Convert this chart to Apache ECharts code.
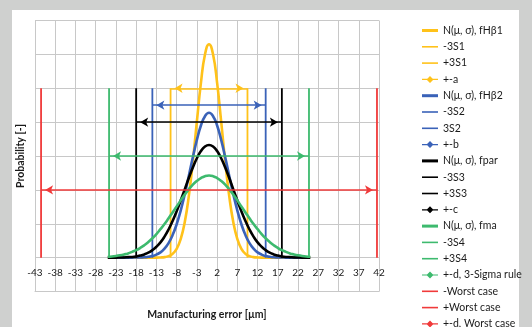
<!DOCTYPE html>
<html lang="en">
<head>
    <meta charset="UTF-8">
    <title>Manufacturing error</title>
    <style>
        html,body{
            margin: 0;
            width: 100%;
            height: 100%;
            overflow: hidden;
            background: #cfd0cf;
        }
        #chartmain{
            position: absolute;
            left: 12px;
            top: 10px;
            width: 520px;
            height: 340px;
            background: linear-gradient(to right, #fff 507px, #cfd0cf 507px);
        }
    </style>
</head>
<body>
<div id="chartmain"></div>
<script src="https://cdn.jsdelivr.net/npm/echarts@6/dist/echarts.min.js"></script>
<script type="text/javascript">
    // x positions of the curve samples [µm]
    var xs = [-25,-24,-23,-22,-21,-20,-19,-18,-17,-16,-15,-14,-13,-12,-11,-10,-9,-8,-7,-6,-5,-4,-3,-2,-1,0,
              1,2,3,4,5,6,7,8,9,10,11,12,13,14,15,16,17,18,19,20,21,22,23,24,25];
    // N(mu, sigma) curves
    var fHb1 = [0,0,0,0,0,0,0,0,0,0,0,0,0,0.0001,0.0003,0.0009,0.0022,0.0052,0.0109,0.0209,0.0362,0.0567,0.0804,0.1032,0.1199,0.1260,
                0.1199,0.1032,0.0804,0.0567,0.0362,0.0209,0.0109,0.0052,0.0022,0.0009,0.0003,0.0001,0,0,0,0,0,0,0,0,0,0,0,0,0];
    var fHb2 = [0,0,0,0,0,0,0,0.0001,0.0001,0.0002,0.0005,0.0009,0.0018,0.0031,0.0053,0.0086,0.0133,0.0197,0.0278,0.0374,0.0482,0.0592,0.0695,0.0780,0.0835,0.0855,
                0.0835,0.0780,0.0695,0.0592,0.0482,0.0374,0.0278,0.0197,0.0133,0.0086,0.0053,0.0031,0.0018,0.0009,0.0005,0.0002,0.0001,0.0001,0,0,0,0,0,0,0];
    var fpar = [0,0,0,0.0001,0.0001,0.0003,0.0004,0.0007,0.0012,0.0019,0.0029,0.0044,0.0064,0.0090,0.0124,0.0166,0.0216,0.0273,0.0337,0.0403,0.0470,0.0532,0.0587,0.0629,0.0656,0.0665,
                0.0656,0.0629,0.0587,0.0532,0.0470,0.0403,0.0337,0.0273,0.0216,0.0166,0.0124,0.0090,0.0064,0.0044,0.0029,0.0019,0.0012,0.0007,0.0004,0.0003,0.0001,0.0001,0,0,0];
    var fma = [0.0005,0.0007,0.0010,0.0014,0.0019,0.0025,0.0034,0.0044,0.0057,0.0073,0.0092,0.0114,0.0139,0.0168,0.0198,0.0232,0.0267,0.0302,0.0338,0.0372,0.0403,0.0431,0.0453,0.0470,0.0481,0.0485,
               0.0481,0.0470,0.0453,0.0431,0.0403,0.0372,0.0338,0.0302,0.0267,0.0232,0.0198,0.0168,0.0139,0.0114,0.0092,0.0073,0.0057,0.0044,0.0034,0.0025,0.0019,0.0014,0.0010,0.0007,0.0005];
    // +-3S limits and worst case [µm]
    var limits = [9.5, 14, 18, 24.7, 41.5];
    var limitTop = 0.10;
    // height of the double arrows
    var arrowLevels = [0.10, 0.09, 0.08, 0.06, 0.04];
    // x axis tick labels run from -43 to 42
    var xMin = -43, xMax = 42, xStep = 5;

    var names = [
        'N(μ, σ), fHβ1','-3S1','+3S1','+-a',
        'N(μ, σ), fHβ2','-3S2','3S2','+-b',
        'N(μ, σ), fpar','-3S3','+3S3','+-c',
        'N(μ, σ), fma','-3S4','+3S4','+-d, 3-Sigma rule',
        '-Worst case','+Worst case','+-d, Worst case'
    ];
    var colors = ['#ffc21a','#3a62b8','#000000','#3dba6e','#f03a3a'];

    var ICON_THICK = 'path://M0,0H16V3H0Z';
    var ICON_THIN = 'path://M0,0H16V1.6H0Z';
    var ICON_ARROW = 'path://M0,3.4H16V4.6H0Z M8,0.5L11.5,4L8,7.5L4.5,4Z';

    // axis is shifted so that ticks sit on -43, -38, ...
    function sx(x){ return x - xMin; }

    function curve(name, vals, color){
        return {
            name: name, type: 'line', smooth: true, symbol: 'none',
            data: xs.map(function(x, i){ return [sx(x), vals[i]]; }),
            lineStyle: {color: color, width: 2.6},
            itemStyle: {color: color}
        };
    }
    function vline(name, x, color){
        return {
            name: name, type: 'line', symbol: 'none',
            data: [[sx(x), 0], [sx(x), limitTop]],
            lineStyle: {color: color, width: 1.8},
            itemStyle: {color: color}
        };
    }
    function arrow(name, x, y, color){
        return {
            name: name, type: 'line', symbol: 'none', data: [],
            lineStyle: {color: color, width: 1.5},
            itemStyle: {color: color},
            markLine: {
                silent: true,
                symbol: ['arrow','arrow'],
                symbolSize: [7, 8],
                symbolOffset: [[0, 4],[0, 4]],
                label: {show: false},
                lineStyle: {color: color, width: 1.5, type: 'solid'},
                data: [[{coord: [sx(-x), y]}, {coord: [sx(x), y]}]]
            }
        };
    }

    var curves = [fHb1, fHb2, fpar, fma];
    var series = [];
    var legendData = [];
    for (var k = 0; k < 4; k++) {
        series.push(curve(names[k*4], curves[k], colors[k]));
        series.push(vline(names[k*4+1], -limits[k], colors[k]));
        series.push(vline(names[k*4+2], limits[k], colors[k]));
        series.push(arrow(names[k*4+3], limits[k], arrowLevels[k], colors[k]));
        legendData.push({name: names[k*4], icon: ICON_THICK});
        legendData.push({name: names[k*4+1], icon: ICON_THIN});
        legendData.push({name: names[k*4+2], icon: ICON_THIN});
        legendData.push({name: names[k*4+3], icon: ICON_ARROW});
    }
    series.push(vline(names[16], -limits[4], colors[4]));
    series.push(vline(names[17], limits[4], colors[4]));
    series.push(arrow(names[18], limits[4], arrowLevels[4], colors[4]));
    legendData.push({name: names[16], icon: ICON_THIN});
    legendData.push({name: names[17], icon: ICON_THIN});
    legendData.push({name: names[18], icon: ICON_ARROW});

    var gridColor = '#c8c8c8';
    var option = {
        animation: false,
        textStyle: {fontFamily: 'Lato'},
        grid: {left: 23, top: 10.5, width: 344, height: 271, containLabel: false, outerBoundsMode: 'none'},
        legend: {
            orient: 'vertical', left: 405, top: 10,
            itemWidth: 16, itemHeight: 10, itemGap: 5.3,
            itemStyle: {borderWidth: 0},
            textStyle: {fontSize: 10.5, color: '#1a1a1a', fontFamily: 'Lato'},
            data: legendData
        },
        xAxis: {
            type: 'value', min: 0, max: xMax - xMin, interval: xStep,
            position: 'bottom',
            name: 'Manufacturing error [µm]', nameLocation: 'middle', nameGap: 18,
            nameTextStyle: {fontSize: 10.5, fontWeight: 'bold', color: '#1a1a1a', fontFamily: 'Lato'},
            axisLine: {onZero: false, lineStyle: {color: gridColor}},
            axisTick: {show: false},
            // labels sit just under the zero line, inside the plot
            axisLabel: {inside: true, margin: 14, fontSize: 10, color: '#1a1a1a', fontFamily: 'Lato',
                formatter: function(v){ return String(v + xMin); }},
            splitLine: {lineStyle: {color: gridColor}}
        },
        yAxis: {
            type: 'value', min: -0.02, max: 0.14, interval: 0.02,
            name: 'Probability [-]', nameLocation: 'middle', nameGap: 8.5,
            nameTextStyle: {fontSize: 10.5, fontWeight: 'bold', color: '#1a1a1a', fontFamily: 'Lato'},
            axisLine: {show: true, onZero: false, lineStyle: {color: gridColor}},
            axisTick: {show: false},
            axisLabel: {show: false},
            splitLine: {lineStyle: {color: gridColor}}
        },
        series: series
    };

    var myChart = echarts.init(document.getElementById('chartmain'));
    myChart.setOption(option);
</script>
</body>
</html>
